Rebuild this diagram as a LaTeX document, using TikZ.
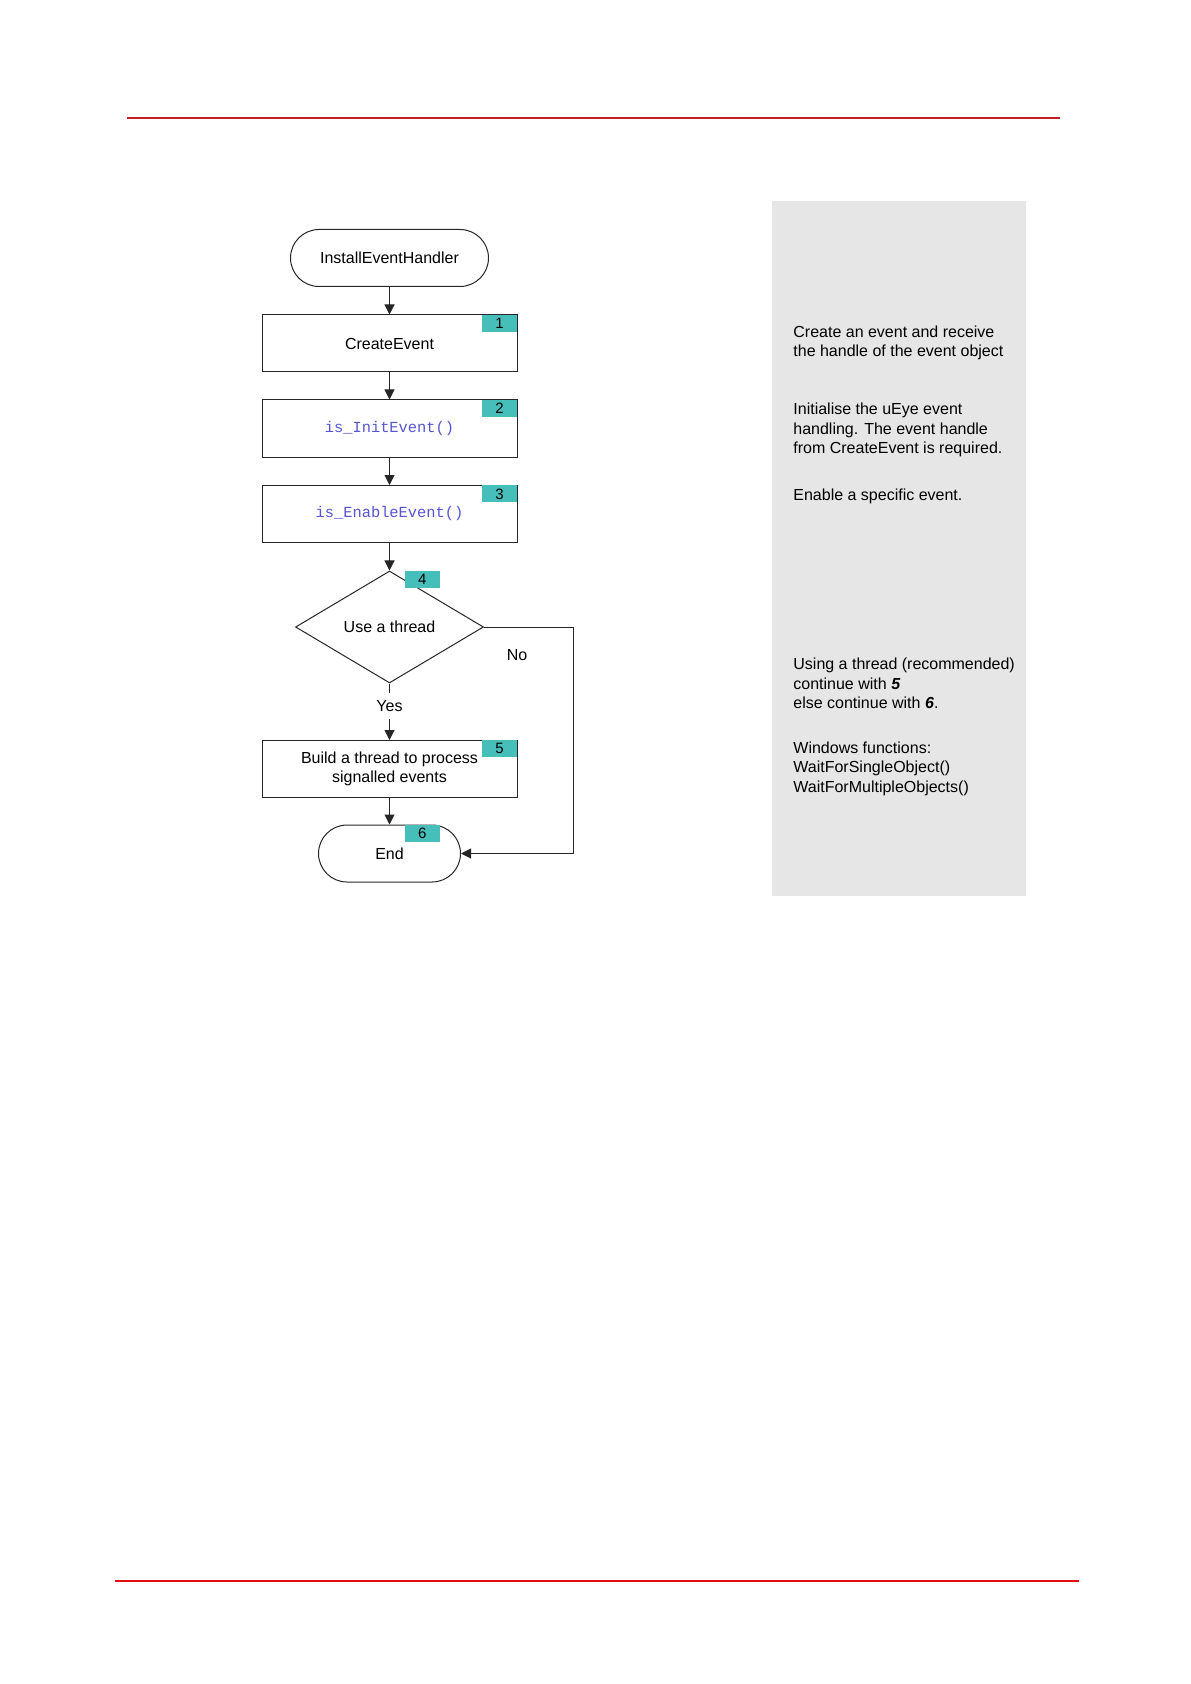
\documentclass[tikz,border=0pt]{standalone}
\usepackage{fontspec}
\setmainfont{Liberation Sans}
\setmonofont{Liberation Mono}
\usetikzlibrary{shapes.geometric,arrows.meta}

\definecolor{badgeteal}{RGB}{70,190,185}
\definecolor{panelgray}{RGB}{230,230,230}
\definecolor{codeblue}{RGB}{85,85,210}
\definecolor{rulered}{RGB}{200,30,35}
\definecolor{rulebright}{RGB}{225,15,15}

\tikzset{
	every node/.style={font=\fontsize{8}{9.7}\selectfont},
	procbox/.style={draw=black!85, line width=0.5pt, minimum width=127.5pt, minimum height=28.5pt, inner sep=0pt, align=center},
	terminal/.style={draw=black!85, line width=0.5pt, rounded corners=14.25pt, minimum height=28.5pt, inner sep=0pt},
	decision/.style={draw=black!85, line width=0.5pt, diamond, aspect=1.68, minimum width=94pt, minimum height=56pt, inner sep=0pt},
	badge/.style={fill=badgeteal, minimum width=17.5pt, minimum height=8.5pt, inner sep=0pt, font=\fontsize{7.5}{8}\selectfont},
	code/.style={text=codeblue, font=\fontsize{7.7}{9}\selectfont\ttfamily},
	flow/.style={draw=black!85, line width=0.5pt, -{Triangle[length=5pt,width=5pt]}},
	plain/.style={draw=black!85, line width=0.5pt},
	note/.style={anchor=west, align=left, inner sep=0pt}
}

\begin{document}
\begin{tikzpicture}[x=0.5pt,y=-0.5pt]

	\useasboundingbox (0,0) rectangle (1190,1684);

	% page rules
	\draw[rulered, line width=0.6pt] (127,118) -- (1060,118);
	\draw[rulebright, line width=1.1pt] (115,1581) -- (1079,1581);

	% side panel
	\fill[panelgray] (772,201) rectangle (1026,896);

	% flow chart
	\node[terminal, minimum width=99pt] (install) at (389.5,258) {InstallEventHandler};
	\node[procbox] (create) at (389.5,343.5) {CreateEvent};
	\node[procbox, code] (init) at (389.5,428.5) {is\_InitEvent()};
	\node[procbox, code] (enable) at (389.5,514) {is\_EnableEvent()};
	\node[decision] (thread) at (389.5,627) {Use a thread};
	\node (yes) at (389.5,706) {Yes};
	\node[procbox] (build) at (389.5,769) {Build a thread to process\\signalled events};
	\node[terminal, minimum width=71pt] (end) at (389.5,853.5) {End};
	\node (no) at (517,655) {No};

	% step numbers
	\node[badge, anchor=north east] (num1) at (create.north east) {1};
	\node[badge, anchor=north east] (num2) at (init.north east) {2};
	\node[badge, anchor=north east] (num3) at (enable.north east) {3};
	\node[badge, anchor=north west] (num4) at ([xshift=7.5pt]thread.north) {4};
	\node[badge, anchor=north east] (num5) at (build.north east) {5};
	\node[badge, anchor=north west] (num6) at ([xshift=7.5pt]end.north) {6};

	\draw[flow] (install) -- (create);
	\draw[flow] (create) -- (init);
	\draw[flow] (init) -- (enable);
	\draw[flow] (enable) -- (thread);
	\draw[plain] (thread) -- (yes);
	\draw[flow] (yes) -- (build);
	\draw[flow] (build) -- (end);

	\coordinate (nocorner) at (573,627);
	\draw[flow] (thread.east) -- (nocorner) |- (end.east);

	% notes
	\node[note] (noteCreate) at (793,343) {Create an event and receive\\the handle of the event object};
	\node[note] (noteInit) at (793,430) {Initialise the uEye event\\handling. The event handle\\from CreateEvent is required.};
	\node[note] (noteEnable) at (793,496) {Enable a specific event.};
	\node[note] (noteThread) at (793,683.5) {Using a thread (recommended)\\continue with \textbf{\textit{5}}\\else continue with \textbf{\textit{6}}.};
	\node[note] (noteWin) at (793,768.5) {Windows functions:\\WaitForSingleObject()\\WaitForMultipleObjects()};

\end{tikzpicture}
\end{document}
